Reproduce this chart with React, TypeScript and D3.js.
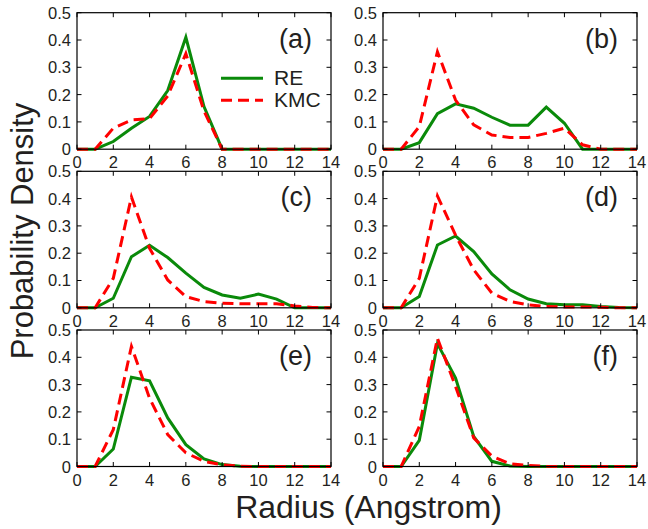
import React from "react";
import * as d3 from "d3";

// radius bins (Angstrom)
const radius = [0, 1, 2, 3, 4, 5, 6, 7, 8, 9, 10, 11, 12, 13, 14];

const reA = [0, 0, 0.028, 0.077, 0.12, 0.215, 0.41, 0.156, 0, 0, 0, 0, 0, 0, 0];
const kmcA = [0, 0, 0.077, 0.107, 0.112, 0.195, 0.35, 0.14, 0, 0, 0, 0, 0, 0, 0];
const reB = [0, 0, 0.024, 0.13, 0.166, 0.15, 0.117, 0.088, 0.088, 0.154, 0.095, 0, 0, 0, 0];
const kmcB = [0, 0, 0.083, 0.357, 0.18, 0.089, 0.052, 0.043, 0.043, 0.058, 0.077, 0.016, 0, 0, 0];
const reC = [0, 0, 0.035, 0.187, 0.229, 0.184, 0.127, 0.075, 0.047, 0.035, 0.05, 0.032, 0, 0, 0];
const kmcC = [0, 0, 0.108, 0.406, 0.218, 0.102, 0.041, 0.023, 0.017, 0.015, 0.015, 0.015, 0.007, 0.001, 0];
const reD = [0, 0, 0.041, 0.23, 0.263, 0.206, 0.124, 0.066, 0.032, 0.015, 0.011, 0.011, 0.005, 0.001, 0];
const kmcD = [0, 0, 0.108, 0.41, 0.266, 0.139, 0.054, 0.023, 0.011, 0.005, 0.003, 0.003, 0.002, 0, 0];
const reE = [0, 0, 0.064, 0.327, 0.314, 0.178, 0.08, 0.028, 0.007, 0.001, 0, 0, 0, 0, 0];
const kmcE = [0, 0, 0.135, 0.44, 0.25, 0.117, 0.05, 0.019, 0.006, 0.001, 0, 0, 0, 0, 0];
const reF = [0, 0, 0.096, 0.45, 0.324, 0.11, 0.019, 0.002, 0, 0, 0, 0, 0, 0, 0];
const kmcF = [0, 0, 0.147, 0.47, 0.293, 0.105, 0.038, 0.01, 0.004, 0.001, 0, 0, 0, 0, 0];

const panelLabels = ["(a)", "(b)", "(c)", "(d)", "(e)", "(f)"];
const reSeries = [reA, reB, reC, reD, reE, reF];
const kmcSeries = [kmcA, kmcB, kmcC, kmcD, kmcE, kmcF];

const xTicks = [0, 2, 4, 6, 8, 10, 12, 14];
const yTicks = [0, 0.1, 0.2, 0.3, 0.4, 0.5];
const yTickLabels = ["0", "0.1", "0.2", "0.3", "0.4", "0.5"];

const W = 648;
const H = 529;
const colX = [77, 383];
const rowY = [12.7, 171.3, 330];
const pw = 254;
const ph = 136.5;

const GREEN = "#0a8a0a";
const RED = "#ff0000";
const INK = "#231f20";
const FONT = "'Liberation Sans', Arial, Helvetica, sans-serif";

function Panel({ i }: { i: number }) {
  const x0 = colX[i % 2];
  const y0 = rowY[Math.floor(i / 2)];
  const x = d3.scaleLinear().domain([0, 14]).range([0, pw]);
  const y = d3.scaleLinear().domain([0, 0.5]).range([ph, 0]);
  const line = d3
    .line<number>()
    .x((d, k) => x(radius[k]))
    .y(d => y(d));
  const tk = 4.5;

  return (
    <g transform={`translate(${x0},${y0})`}>
      <path d={line(reSeries[i]) || ""} fill="none" stroke={GREEN} strokeWidth={3} />
      <path
        d={line(kmcSeries[i]) || ""}
        fill="none"
        stroke={RED}
        strokeWidth={3}
        strokeDasharray="11,6"
      />
      <rect x={0} y={0} width={pw} height={ph} fill="none" stroke="#000" strokeWidth={1.2} />
      {xTicks.map(t => (
        <g key={"x" + t}>
          <line x1={x(t)} x2={x(t)} y1={ph} y2={ph - tk} stroke="#000" strokeWidth={1} />
          <line x1={x(t)} x2={x(t)} y1={0} y2={tk} stroke="#000" strokeWidth={1} />
          <text
            x={x(t)}
            y={ph + 19}
            textAnchor="middle"
            fontSize={16.5}
            fill={INK}
            fontFamily={FONT}
          >
            {t}
          </text>
        </g>
      ))}
      {yTicks.map((t, k) => (
        <g key={"y" + t}>
          <line x1={0} x2={tk} y1={y(t)} y2={y(t)} stroke="#000" strokeWidth={1} />
          <line x1={pw} x2={pw - tk} y1={y(t)} y2={y(t)} stroke="#000" strokeWidth={1} />
          <text
            x={-6}
            y={y(t) + 6}
            textAnchor="end"
            fontSize={16.5}
            fill={INK}
            fontFamily={FONT}
          >
            {yTickLabels[k]}
          </text>
        </g>
      ))}
      <text
        x={pw - 19}
        y={35}
        textAnchor="end"
        fontSize={27}
        fill={INK}
        fontFamily={FONT}
      >
        {panelLabels[i]}
      </text>
      {i === 0 && (
        <g>
          <line x1={144} x2={186} y1={65.5} y2={65.5} stroke={GREEN} strokeWidth={3} />
          <line
            x1={144}
            x2={186}
            y1={87.5}
            y2={87.5}
            stroke={RED}
            strokeWidth={3}
            strokeDasharray="11,6"
          />
          <text x={197} y={72.5} fontSize={21} fill={INK} fontFamily={FONT}>
            RE
          </text>
          <text x={197} y={94.5} fontSize={21} fill={INK} fontFamily={FONT}>
            KMC
          </text>
        </g>
      )}
    </g>
  );
}

export default function App() {
  return (
    <svg
      width={W}
      height={H}
      style={{ position: "absolute", left: 0, top: 0, background: "#fff" }}
    >
      {panelLabels.map((_, i) => (
        <Panel key={i} i={i} />
      ))}
      <text
        x={368.5}
        y={518}
        textAnchor="middle"
        fontSize={32}
        fill={INK}
        fontFamily={FONT}
      >
        Radius (Angstrom)
      </text>
      <text
        transform="translate(33,231) rotate(-90)"
        textAnchor="middle"
        fontSize={31}
        fill={INK}
        fontFamily={FONT}
      >
        Probability Density
      </text>
    </svg>
  );
}
